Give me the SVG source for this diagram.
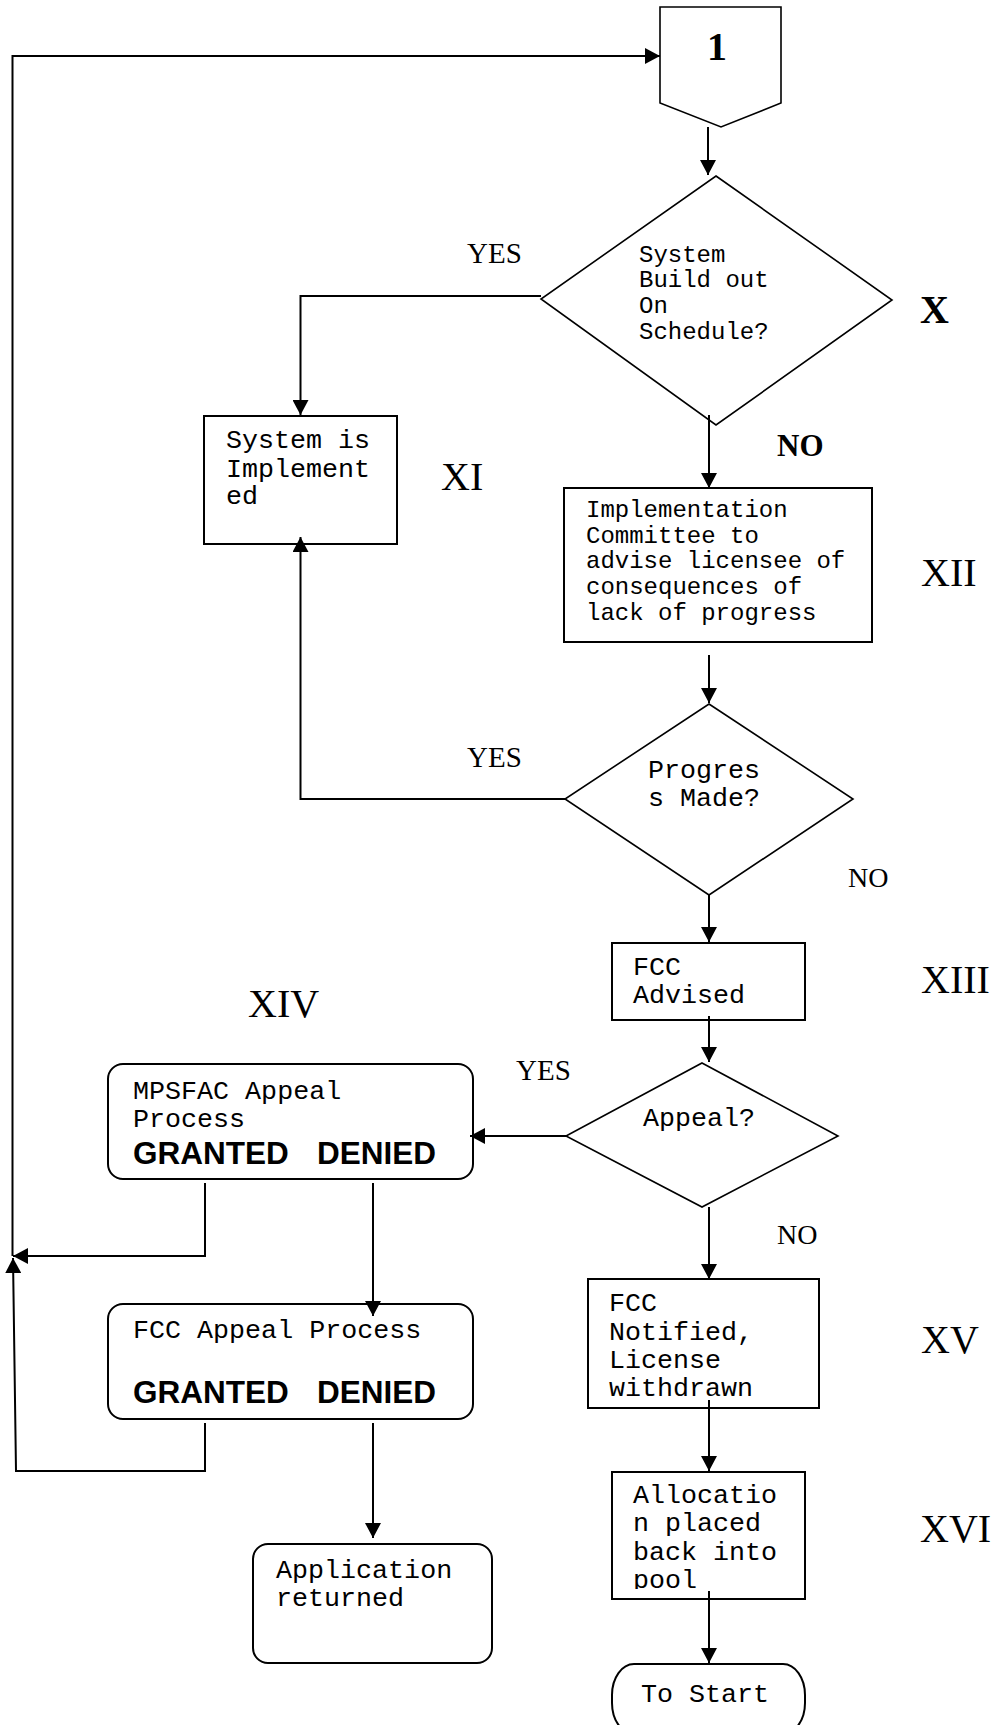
<svg xmlns="http://www.w3.org/2000/svg" width="998" height="1725" viewBox="0 0 998 1725">
<style>
.shape{fill:#fff;stroke:#000;stroke-width:2}
.dia{fill:#fff;stroke:#000;stroke-width:1.6}
.conn{fill:none;stroke:#000;stroke-width:2}
.mono{font-family:"Liberation Mono","Courier New",monospace;font-size:26.7px;fill:#000}
.m24{font-size:24px}
.serif{font-family:"Liberation Serif","Times New Roman",serif;fill:#000}
.roman{font-size:40px}
.yn{font-size:29px}
.bold{font-weight:bold}
.gd{font-family:"Liberation Sans",Arial,sans-serif;font-weight:bold;font-size:31.5px;fill:#000}
</style>
<defs>
<marker id="arr" markerUnits="userSpaceOnUse" markerWidth="16" markerHeight="16" refX="15" refY="8" orient="auto">
<path d="M0,0 L15,8 L0,16 Z" fill="#000"/>
</marker>
<clipPath id="clipAlloc"><rect x="612" y="1472" width="193" height="117"/></clipPath>
</defs>
<rect width="998" height="1725" fill="#fff"/>

<g id="n-start">
<path class="shape" d="M660,7 H781 V103 L721,127 L660,103 Z" style="stroke-width:1.6"/>
<text class="serif bold" x="717" y="60" font-size="40" text-anchor="middle">1</text>
</g>

<g id="n-x">
<polygon class="dia" points="716,176 892,300 716,425 541,299"/>
<text class="mono m24"><tspan x="639" y="262">System</tspan><tspan x="639" y="287">Build out</tspan><tspan x="639" y="313">On</tspan><tspan x="639" y="339">Schedule?</tspan></text>
</g>

<g id="n-xi">
<rect class="shape" x="204" y="416" width="193" height="128"/>
<text class="mono"><tspan x="226" y="448">System is</tspan><tspan x="226" y="477">Implement</tspan><tspan x="226" y="504">ed</tspan></text>
</g>

<g id="n-xii">
<rect class="shape" x="564" y="488" width="308" height="154"/>
<text class="mono m24"><tspan x="586" y="517">Implementation</tspan><tspan x="586" y="543">Committee to</tspan><tspan x="586" y="568">advise licensee of</tspan><tspan x="586" y="594">consequences of</tspan><tspan x="586" y="620">lack of progress</tspan></text>
</g>

<g id="n-progress">
<polygon class="dia" points="709,704 853,799 709,895 565,799"/>
<text class="mono"><tspan x="648" y="778">Progres</tspan><tspan x="648" y="806">s Made?</tspan></text>
</g>

<g id="n-xiii">
<rect class="shape" x="612" y="943" width="193" height="77"/>
<text class="mono"><tspan x="633" y="975">FCC</tspan><tspan x="633" y="1003">Advised</tspan></text>
</g>

<g id="n-appeal">
<polygon class="dia" points="702,1063 838,1136 702,1207 566,1136"/>
<text class="mono" x="643" y="1126">Appeal?</text>
</g>

<g id="n-mpsfac">
<rect class="shape" x="108" y="1064" width="365" height="115" rx="15" ry="15"/>
<text class="mono"><tspan x="133" y="1099">MPSFAC Appeal</tspan><tspan x="133" y="1127">Process</tspan></text>
<text class="gd" x="133" y="1164">GRANTED <tspan x="317">DENIED</tspan></text>
</g>

<g id="n-fccappeal">
<rect class="shape" x="108" y="1304" width="365" height="115" rx="15" ry="15"/>
<text class="mono" x="133" y="1338">FCC Appeal Process</text>
<text class="gd" x="133" y="1403">GRANTED <tspan x="317">DENIED</tspan></text>
</g>

<g id="n-returned">
<rect class="shape" x="253" y="1544" width="239" height="119" rx="15" ry="15"/>
<text class="mono"><tspan x="276" y="1578">Application</tspan><tspan x="276" y="1606">returned</tspan></text>
</g>

<g id="n-xv">
<rect class="shape" x="588" y="1279" width="231" height="129"/>
<text class="mono"><tspan x="609" y="1311">FCC</tspan><tspan x="609" y="1340">Notified,</tspan><tspan x="609" y="1368">License</tspan><tspan x="609" y="1396">withdrawn</tspan></text>
</g>

<g id="n-xvi">
<rect class="shape" x="612" y="1472" width="193" height="127"/>
<text class="mono" clip-path="url(#clipAlloc)"><tspan x="633" y="1503">Allocatio</tspan><tspan x="633" y="1531">n placed</tspan><tspan x="633" y="1560">back into</tspan><tspan x="633" y="1588">pool</tspan></text>
</g>

<g id="n-tostart">
<rect class="shape" x="612" y="1664" width="193" height="70" rx="22" ry="31"/>
<text class="mono" x="641" y="1702">To Start</text>
</g>

<g id="labels">
<text class="serif yn" x="467" y="263">YES</text>
<text class="serif bold" x="920" y="323" font-size="40">X</text>
<text class="serif bold" x="777" y="456" font-size="31">NO</text>
<text class="serif roman" x="441" y="490">XI</text>
<text class="serif roman" x="921" y="586">XII</text>
<text class="serif yn" x="467" y="767">YES</text>
<text class="serif" x="848" y="887" font-size="28">NO</text>
<text class="serif roman" x="921" y="993">XIII</text>
<text class="serif roman" x="248" y="1017">XIV</text>
<text class="serif yn" x="516" y="1080">YES</text>
<text class="serif" x="777" y="1244" font-size="28">NO</text>
<text class="serif roman" x="921" y="1353">XV</text>
<text class="serif roman" x="920" y="1542">XVI</text>
</g>

<g id="connectors">
<path class="conn" d="M12.5,1256 V56 H660" marker-end="url(#arr)"/>
<path class="conn" d="M708,127 V175" marker-end="url(#arr)"/>
<path class="conn" d="M541,296 H300.5 V415" marker-end="url(#arr)"/>
<path class="conn" d="M709,415 V488" marker-end="url(#arr)"/>
<path class="conn" d="M709,655 V703" marker-end="url(#arr)"/>
<path class="conn" d="M565,799 H300.5 V537" marker-end="url(#arr)"/>
<path class="conn" d="M709,895 V942" marker-end="url(#arr)"/>
<path class="conn" d="M709,1016 V1062" marker-end="url(#arr)"/>
<path class="conn" d="M566,1136 H470" marker-end="url(#arr)"/>
<path class="conn" d="M709,1207 V1279" marker-end="url(#arr)"/>
<path class="conn" d="M205,1183 V1256 H13" marker-end="url(#arr)"/>
<path class="conn" d="M373,1183 V1316" marker-end="url(#arr)"/>
<path class="conn" d="M205,1423 V1471 H16 L13,1258" marker-end="url(#arr)"/>
<path class="conn" d="M373,1423 V1538" marker-end="url(#arr)"/>
<path class="conn" d="M709,1400 V1471" marker-end="url(#arr)"/>
<path class="conn" d="M709,1591 V1663" marker-end="url(#arr)"/>
</g>
</svg>
